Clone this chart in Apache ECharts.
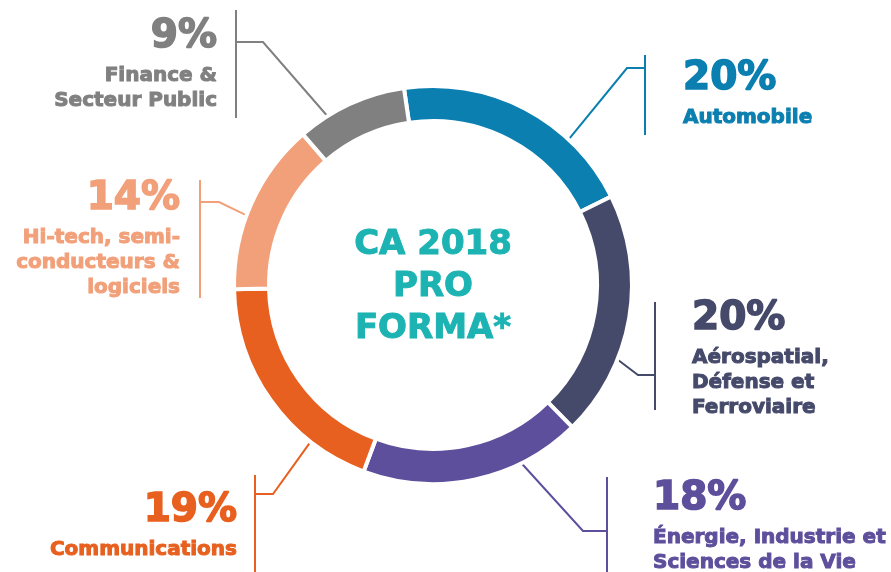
<!DOCTYPE html>
<html>
<head>
<meta charset="utf-8">
<script src="https://cdn.jsdelivr.net/npm/echarts@6/dist/echarts.min.js"></script>
<style>
  html, body { margin: 0; padding: 0; background: #fff; }
  #main { width: 891px; height: 572px; }
</style>
</head>
<body>
<div id="main"></div>
<script>
// chart data
var sectors = ['Automobile', 'Aérospatial,\nDéfense et\nFerroviaire', 'Énergie, Industrie et\nSciences de la Vie',
  'Communications', 'Hi-tech, semi-\nconducteurs &\nlogiciels', 'Finance &\nSecteur Public'];
var shares = [20, 20, 18, 19, 14, 9];
var colors = ['#0a7fb0', '#464a6a', '#5e4f9c', '#e8601f', '#f2a07a', '#808080'];
var centerTitle = 'CA 2018\nPRO\nFORMA*';

// ring geometry (px)
var CX = 433, CY = 285, R_IN = 164, R_OUT = 199;

// callout placement: leader start angle (deg clockwise from top), elbow, bracket bar, label anchor
var callouts = [
  { ang: 43,    elbow: [627, 68],  bar: [645, 55, 135],  pos: [683, 53],  align: 'left' },
  { ang: 112,   elbow: [638, 375], bar: [655, 302, 410], pos: [692, 293], align: 'left' },
  { ang: 153.6, elbow: [583, 531], bar: [607, 477, 580], pos: [653, 473], align: 'left' },
  { ang: 218,   elbow: [273, 494], bar: [255, 475, 580], pos: [237, 485], align: 'right' },
  { ang: 290.5, elbow: [219, 202], bar: [200, 180, 298], pos: [180, 173], align: 'right' },
  { ang: 328,   elbow: [263, 42],  bar: [236, 10, 118],  pos: [217, 11],  align: 'right' }
];

var chart = echarts.init(document.getElementById('main'));

var pieData = sectors.map(function (name, i) {
  return {
    name: name,
    value: shares[i],
    itemStyle: { color: colors[i] },
    label: {
      rich: {
        p: {
          fontFamily: 'DejaVu Sans', fontWeight: 'bold', fontSize: 39, lineHeight: 52,
          color: colors[i], textBorderColor: colors[i], textBorderWidth: 1.6
        },
        n: {
          fontFamily: 'DejaVu Sans', fontWeight: 'bold', fontSize: 20, lineHeight: 25,
          color: colors[i], textBorderColor: colors[i], textBorderWidth: 1
        }
      }
    },
    labelLine: { lineStyle: { color: colors[i], width: 2 } }
  };
});

var option = {
  animation: false,
  title: {
    text: centerTitle,
    left: CX,
    top: 224,
    padding: 0,
    textAlign: 'center',
    textStyle: {
      fontFamily: 'DejaVu Sans',
      fontWeight: 'bold',
      fontSize: 34,
      lineHeight: 42,
      color: '#1db3b3',
      textBorderColor: '#1db3b3',
      textBorderWidth: 1
    }
  },
  series: [{
    type: 'pie',
    center: [CX, CY],
    radius: [R_IN, R_OUT],
    startAngle: 98.4,
    clockwise: true,
    avoidLabelOverlap: false,
    emphasis: { disabled: true },
    itemStyle: { borderColor: '#fff', borderWidth: 4 },
    label: {
      show: true,
      position: 'outside',
      formatter: function (p) {
        var lines = p.name.split('\n').map(function (s) { return '{n|' + s + '}'; });
        return '{p|' + p.value + '%}\n' + lines.join('\n');
      }
    },
    labelLine: { show: true, smooth: false },
    labelLayout: function (params) {
      var c = callouts[params.dataIndex];
      var a = c.ang * Math.PI / 180;
      var start = [CX + R_OUT * Math.sin(a), CY - R_OUT * Math.cos(a)];
      return {
        x: c.pos[0],
        y: c.pos[1],
        align: c.align,
        verticalAlign: 'top',
        labelLinePoints: [
          start,
          c.elbow,
          [c.bar[0], c.elbow[1]],
          [c.bar[0], c.bar[1]],
          [c.bar[0], c.bar[2]]
        ]
      };
    },
    data: pieData
  }]
};

chart.setOption(option);
</script>
</body>
</html>
